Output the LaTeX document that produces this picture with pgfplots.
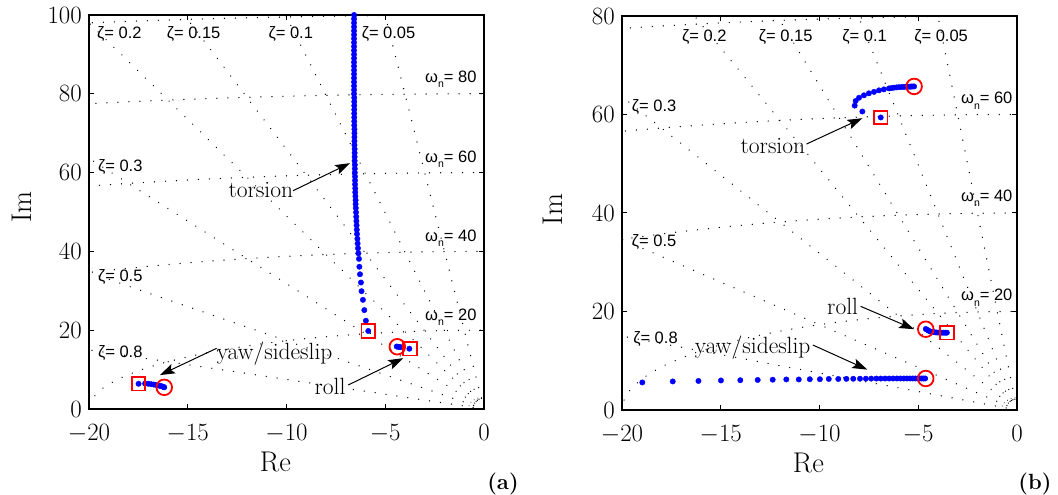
\documentclass[border=0pt]{standalone}
\usepackage{fontspec}
\usepackage{pgfplots}
\pgfplotsset{compat=1.18}
\usetikzlibrary{arrows.meta}
\newfontfamily\gridfont{Liberation Sans}
\newcommand{\zl}[1]{{\gridfont ζ= #1}}
\newcommand{\wl}[1]{{\gridfont ω\raisebox{-0.6ex}{\fontsize{10.5}{10.5}\selectfont n}= #1}}
\tikzset{
  sg/.style={black, line width=1.4pt, dash pattern=on 0.01pt off 11pt, line cap=round},
  gl/.style={anchor=west, inner sep=0pt, font=\fontsize{16.5}{17}\selectfont},
  ann/.style={anchor=center, inner sep=0pt, font=\fontsize{23.5}{25}\selectfont},
  arr/.style={-{Stealth[length=15pt,width=10pt,inset=3pt]}, line width=1pt, black},
}
\pgfplotsset{
  rl/.style={
    scale only axis, width=395pt, height=394pt,
    xmin=-20, xmax=0, xtick={-20,-15,-10,-5,0},
    tick align=inside, major tick length=5pt,
    axis line style={line width=1.2pt},
    every tick/.style={black, line width=1pt},
    tick label style={font=\fontsize{24}{26}\selectfont},
    xticklabel style={yshift=-14pt, inner sep=1pt},
    yticklabel style={inner sep=1pt, xshift=-6pt},
    label style={font=\fontsize{28.5}{30}\selectfont},
    xlabel={Re}, ylabel={Im},
    xlabel style={at={(axis description cs:0.472,-0.1345)}, anchor=center},
    ylabel style={at={(axis description cs:-0.17,0.513)}, anchor=center},
  },
  dots/.style={only marks, mark=*, mark size=2.7pt, color=blue, mark options={draw=blue, fill=blue}},
  endc/.style={only marks, mark=o, mark size=7.8pt, color=red, line width=1.8pt},
  starts/.style={only marks, mark=square, mark size=6.8pt, color=red, line width=1.8pt},
}
\begin{document}
\begin{tikzpicture}
\useasboundingbox (0,0) rectangle (1058pt,495pt);
% ---------------- panel (a) ----------------
\begin{axis}[rl, at={(89pt,86pt)}, anchor=south west,
  ymin=0, ymax=100, ytick={0,20,40,60,80,100}]
% s-grid
\draw[sg] (axis cs:0,0) -- (axis cs:-10,199.75);
\draw[sg] (axis cs:0,0) -- (axis cs:-20,199.0);
\draw[sg] (axis cs:0,0) -- (axis cs:-30,197.7);
\draw[sg] (axis cs:0,0) -- (axis cs:-40,196.0);
\draw[sg] (axis cs:0,0) -- (axis cs:-60,190.8);
\draw[sg] (axis cs:0,0) -- (axis cs:-100,173.2);
\draw[sg] (axis cs:0,0) -- (axis cs:-160,120);
\draw[sg] (axis cs:0,0) ellipse [x radius=20, y radius=20];
\draw[sg] (axis cs:0,0) ellipse [x radius=40, y radius=40];
\draw[sg] (axis cs:0,0) ellipse [x radius=60, y radius=60];
\draw[sg] (axis cs:0,0) ellipse [x radius=80, y radius=80];
\draw[sg] (axis cs:0,0) ellipse [x radius=100, y radius=100];
\draw[sg, line width=1pt, dash pattern=on 0.01pt off 4pt] (axis cs:0,0) ellipse [x radius=0.8, y radius=3];
\node[gl] at (axis cs:-19.6,95.2) {\zl{0.2}};
\node[gl] at (axis cs:-16.07,95.2) {\zl{0.15}};
\node[gl] at (axis cs:-10.92,95.2) {\zl{0.1}};
\node[gl] at (axis cs:-6.2,95.2) {\zl{0.05}};
\node[gl] at (axis cs:-19.55,61.5) {\zl{0.3}};
\node[gl] at (axis cs:-19.55,33.4) {\zl{0.5}};
\node[gl] at (axis cs:-19.55,14.3) {\zl{0.8}};
\node[gl] at (axis cs:-2.99,83.6) {\wl{80}};
\node[gl] at (axis cs:-2.99,63.4) {\wl{60}};
\node[gl] at (axis cs:-2.99,43.4) {\wl{40}};
\node[gl] at (axis cs:-2.99,23.3) {\wl{20}};
% torsion
\addplot[dots] coordinates {
(-5.86,19.8) (-5.98,22.4) (-6.06,25.1) (-6.13,27.7) (-6.20,29.9) (-6.23,32.1)
(-6.28,34.2) (-6.31,36.1) (-6.33,38.1) (-6.36,39.5) (-6.38,40.8) (-6.40,42.0)
(-6.41,43.2) (-6.43,44.4) (-6.44,45.5) (-6.45,46.6) (-6.46,47.7) (-6.47,48.8)
(-6.48,49.9) (-6.49,51.0) (-6.50,52.0) (-6.50,53.0) (-6.51,54.0) (-6.52,55.0)
(-6.52,56.0) (-6.53,57.0) (-6.53,58.0) (-6.53,59.0) (-6.54,60.0) (-6.54,61.0)
(-6.54,62.0) (-6.55,63.0) (-6.55,64.0) (-6.55,65.0) (-6.55,66.0) (-6.56,67.0)
(-6.56,68.0) (-6.56,69.0) (-6.56,70.0) (-6.56,71.0) (-6.57,72.0) (-6.57,73.0)
(-6.57,74.0) (-6.57,75.0) (-6.57,76.0) (-6.57,77.0) (-6.57,78.0) (-6.57,79.0)
(-6.58,80.0) (-6.58,81.0) (-6.58,82.0) (-6.58,83.0) (-6.58,84.0) (-6.58,85.0)
(-6.58,86.0) (-6.58,87.0) (-6.58,88.0) (-6.58,89.0) (-6.58,90.0) (-6.58,91.0)
(-6.58,92.0) (-6.58,93.0) (-6.58,94.0) (-6.58,95.0) (-6.58,96.0) (-6.58,97.0)
(-6.58,98.0) (-6.58,99.0) (-6.58,100.0) (-6.58,101.0) (-6.58,102.0)
};
\addplot[starts] coordinates {(-5.86,19.8)};
% roll
\addplot[dots] coordinates {
(-3.78,15.3) (-4.22,15.7) (-4.30,15.75) (-4.36,15.8) (-4.42,15.85)
};
\addplot[starts] coordinates {(-3.75,15.3)};
\addplot[endc] coordinates {(-4.39,15.8)};
% yaw / sideslip
\addplot[dots] coordinates {
(-17.49,6.4) (-17.16,6.45) (-17.0,6.4) (-16.85,6.3) (-16.72,6.2) (-16.6,6.1)
(-16.5,6.0) (-16.42,5.9) (-16.35,5.8) (-16.28,5.7) (-16.22,5.6) (-16.19,5.5)
};
\addplot[starts] coordinates {(-17.49,6.4)};
\addplot[endc] coordinates {(-16.19,5.5)};
% annotations
\node[ann] at (axis cs:-11.3,55.6) {torsion};
\draw[arr] (axis cs:-9.67,55.4) -- (axis cs:-6.78,62.4);
\node[ann] at (axis cs:-10.6,14.1) {yaw/sideslip};
\draw[arr] (axis cs:-13.54,15.4) -- (axis cs:-16.41,8.6);
\node[ann] at (axis cs:-7.8,5.7) {roll};
\draw[arr] (axis cs:-6.87,6.1) -- (axis cs:-4.09,12.9);
\end{axis}
\node[font=\fontsize{22}{24}\selectfont\bfseries] at (503pt,11pt) {(a)};
% ---------------- panel (b) ----------------
\begin{axis}[rl, at={(622pt,85pt)}, anchor=south west,
  ymin=0, ymax=80, ytick={0,20,40,60,80},
  ylabel style={at={(axis description cs:-0.175,0.509)}, anchor=center}]
\draw[sg] (axis cs:0,0) -- (axis cs:-10,199.75);
\draw[sg] (axis cs:0,0) -- (axis cs:-20,199.0);
\draw[sg] (axis cs:0,0) -- (axis cs:-30,197.7);
\draw[sg] (axis cs:0,0) -- (axis cs:-40,196.0);
\draw[sg] (axis cs:0,0) -- (axis cs:-60,190.8);
\draw[sg] (axis cs:0,0) -- (axis cs:-100,173.2);
\draw[sg] (axis cs:0,0) -- (axis cs:-160,120);
\draw[sg] (axis cs:0,0) ellipse [x radius=20, y radius=20];
\draw[sg] (axis cs:0,0) ellipse [x radius=40, y radius=40];
\draw[sg] (axis cs:0,0) ellipse [x radius=60, y radius=60];
\draw[sg] (axis cs:0,0) ellipse [x radius=80, y radius=80];
\draw[sg, line width=1pt, dash pattern=on 0.01pt off 4pt] (axis cs:0,0) ellipse [x radius=0.8, y radius=2.5];
\node[gl] at (axis cs:-16.97,75.7) {\zl{0.2}};
\node[gl] at (axis cs:-13.08,75.7) {\zl{0.15}};
\node[gl] at (axis cs:-8.85,75.7) {\zl{0.1}};
\node[gl] at (axis cs:-5.21,75.7) {\zl{0.05}};
\node[gl] at (axis cs:-19.51,61.6) {\zl{0.3}};
\node[gl] at (axis cs:-19.51,34.2) {\zl{0.5}};
\node[gl] at (axis cs:-19.44,14.4) {\zl{0.8}};
\node[gl] at (axis cs:-2.84,62.8) {\wl{60}};
\node[gl] at (axis cs:-2.84,43.0) {\wl{40}};
\node[gl] at (axis cs:-2.84,22.8) {\wl{20}};
% torsion
\addplot[dots] coordinates {
(-6.90,59.4) (-7.83,60.6) (-8.22,61.8) (-8.17,62.75) (-8.00,63.4) (-7.75,63.9)
(-7.50,64.3) (-7.24,64.6) (-6.99,64.9) (-6.74,65.1) (-6.48,65.3) (-6.35,65.37)
(-6.23,65.45) (-6.10,65.5) (-5.98,65.55) (-5.85,65.58) (-5.72,65.6) (-5.60,65.62)
(-5.47,65.65) (-5.40,65.66) (-5.35,65.68) (-5.28,65.69) (-5.21,65.7)
};
\addplot[starts] coordinates {(-6.90,59.4)};
\addplot[endc] coordinates {(-5.21,65.7)};
% roll
\addplot[dots] coordinates {
(-4.62,16.45) (-4.55,16.3) (-4.48,16.1) (-4.40,15.95) (-4.30,15.85) (-4.20,15.8)
(-4.10,15.75) (-4.00,15.72) (-3.90,15.7) (-3.80,15.7) (-3.70,15.7) (-3.62,15.7)
(-3.55,15.7)
};
\addplot[starts] coordinates {(-3.55,15.7)};
\addplot[endc] coordinates {(-4.62,16.4)};
% yaw / sideslip
\addplot[dots] coordinates {
(-18.97,5.6) (-17.43,5.8) (-16.13,5.9) (-14.99,6.0) (-14.01,6.05) (-13.13,6.1)
(-12.37,6.15) (-11.68,6.2) (-11.05,6.2) (-10.49,6.25) (-9.98,6.25) (-9.53,6.3)
(-9.05,6.3) (-8.64,6.32) (-8.29,6.34) (-7.95,6.35) (-7.65,6.36) (-7.38,6.37)
(-7.12,6.38) (-6.90,6.38) (-6.68,6.39) (-6.47,6.39) (-6.27,6.4) (-6.08,6.4)
(-5.90,6.4) (-5.73,6.4) (-5.57,6.4) (-5.42,6.4) (-5.28,6.4) (-5.15,6.4)
(-5.03,6.4) (-4.92,6.4) (-4.82,6.4) (-4.73,6.4) (-4.65,6.4)
};
\addplot[endc] coordinates {(-4.62,6.4)};
% annotations
\node[ann] at (axis cs:-12.36,53.6) {torsion};
\draw[arr] (axis cs:-10.66,54.0) -- (axis cs:-7.83,59.25);
\node[ann] at (axis cs:-8.83,21.1) {roll};
\draw[arr] (axis cs:-7.92,21.05) -- (axis cs:-5.21,16.4);
\node[ann] at (axis cs:-13.38,12.65) {yaw/sideslip};
\draw[arr] (axis cs:-10.34,13.2) -- (axis cs:-7.58,8.2);
\end{axis}
\node[font=\fontsize{22}{24}\selectfont\bfseries] at (1035pt,11pt) {(b)};
\end{tikzpicture}
\end{document}
